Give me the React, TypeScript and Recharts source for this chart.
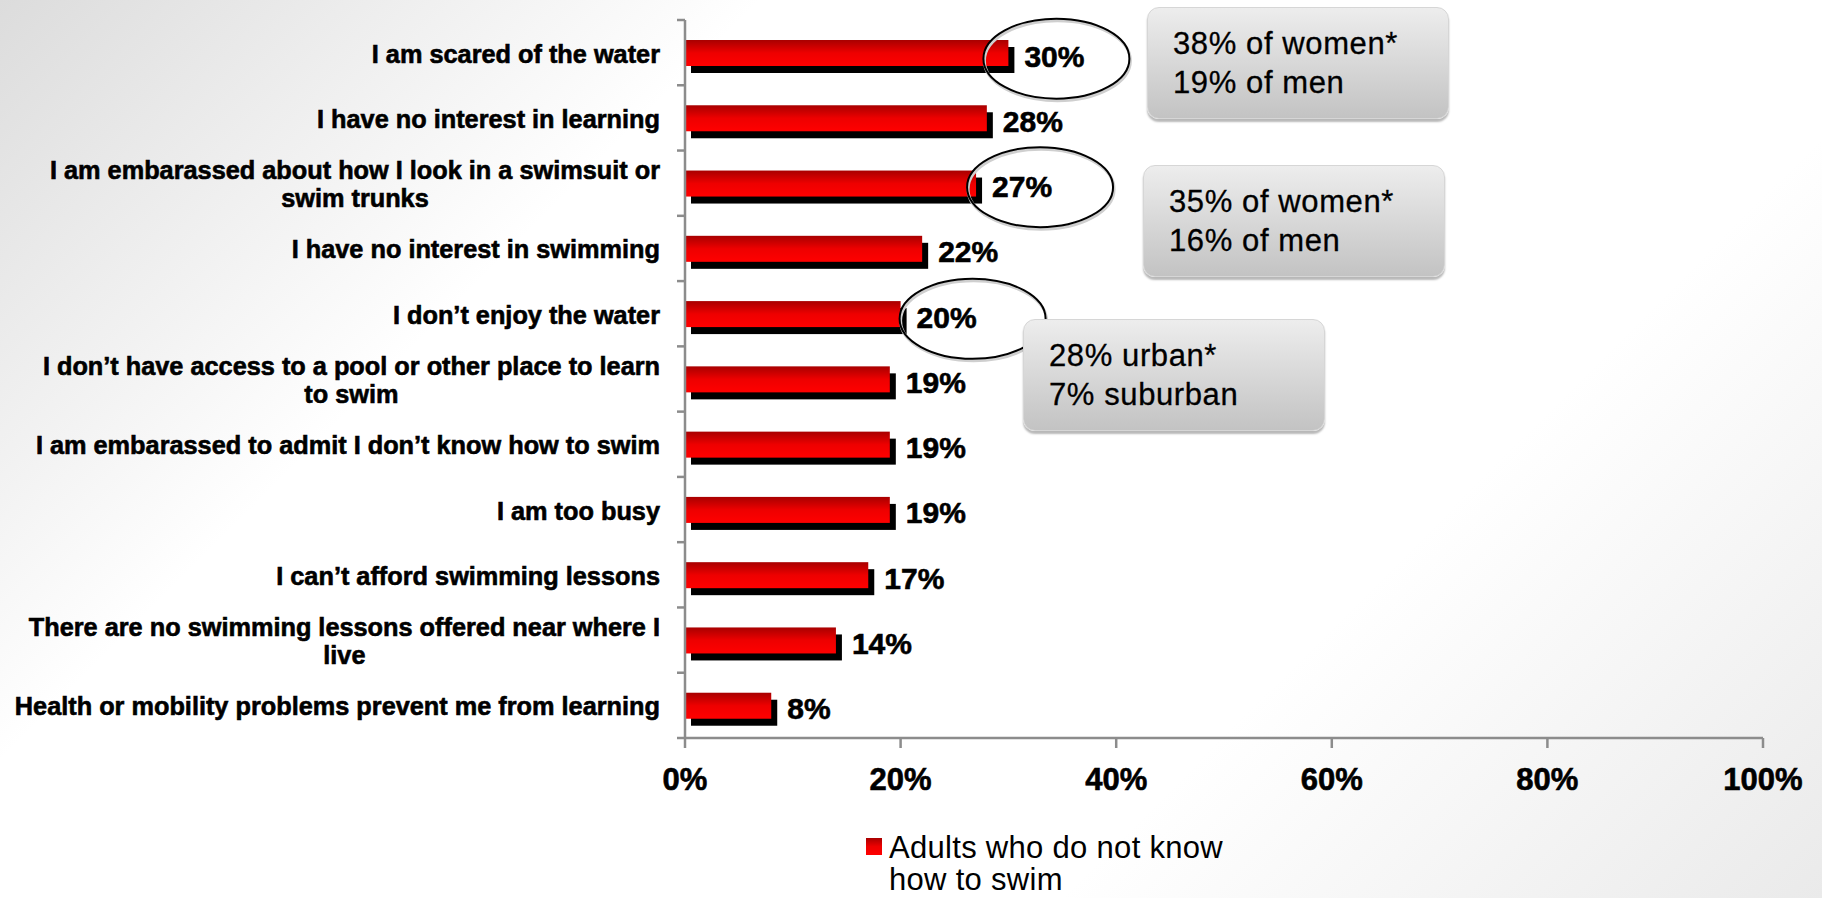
import React from "react";
import {
  BarChart,
  Bar,
  XAxis,
  YAxis,
  LabelList,
  ReferenceDot,
  Legend,
} from "recharts";

// categories, top to bottom
const categories = [
  "I am scared of the water",
  "I have no interest in learning",
  "I am embarassed about how I look in a swimsuit or\nswim trunks",
  "I have no interest in swimming",
  "I don’t enjoy the water",
  "I don’t have access to a pool or other place to learn\nto swim",
  "I am embarassed to admit I don’t know how to swim",
  "I am too busy",
  "I can’t afford swimming lessons",
  "There are no swimming lessons offered near where I\nlive",
  "Health or mobility problems prevent me from learning",
];

const adultsCantSwim = [30, 28, 27, 22, 20, 19, 19, 19, 17, 14, 8];

const xTicks = [0, 20, 40, 60, 80, 100];

const seriesName = "Adults who do not know how to swim";
const legendLines = ["Adults who do not know", "how to swim"];

// circled answers and the call-out text that goes with them
const circled = [0, 2, 4];
const calloutLines = [
  ["38% of women*", "19% of men"],
  ["35% of women*", "16% of men"],
  ["28% urban*", "7% suburban"],
];

const W = 1822;
const H = 898;
const TOP = 20;
const XAXIS_H = 160;
const PLOT_H = H - TOP - XAXIS_H;
const AXIS = "#8c8c8c";
const FONT = "'Liberation Sans', Arial, Helvetica, sans-serif";
const LABEL_SIZE = 25.3;

const rows = categories.map((c, i) => ({ category: c, value: adultsCantSwim[i] }));

let measureCtx: CanvasRenderingContext2D | null = null;
const measure = (s: string, font: string) => {
  if (!measureCtx) measureCtx = document.createElement("canvas").getContext("2d");
  if (!measureCtx) return s.length * 13;
  measureCtx.font = font;
  return measureCtx.measureText(s).width;
};

const ShadowBar = (props: any) => {
  const { x, y, width, height } = props;
  if (!width) return null;
  return (
    <g>
      <rect x={x + 6} y={y + 7} width={width} height={height} fill="#000" />
      <rect x={x} y={y} width={width} height={height} fill="url(#redFill)" />
    </g>
  );
};

const ValueLabel = (props: any) => {
  const { x, y, width, height, value } = props;
  return (
    <text
      x={x + width + 16}
      y={y + height / 2 + 3}
      dominantBaseline="central"
      fontFamily={FONT}
      fontWeight="bold"
      fontSize={30}
      fill="#000"
      stroke="#000"
      strokeWidth={0.6}
    >
      {value}%
    </text>
  );
};

const CategoryTick = (props: any) => {
  const { x, y, payload, index } = props;
  const band = PLOT_H / categories.length;
  const lines = String(payload.value).split("\n");
  const font = `bold ${LABEL_SIZE}px ${FONT}`;
  const blockW = Math.max(...lines.map((l) => measure(l, font)));
  const cx = x - 25 - blockW / 2;
  const start = y + 1 - ((lines.length - 1) * 28) / 2;
  return (
    <g>
      <line x1={x - 8} x2={x} y1={y - band / 2} y2={y - band / 2} stroke={AXIS} strokeWidth={2.5} />
      {index === categories.length - 1 && (
        <line x1={x - 8} x2={x} y1={y + band / 2} y2={y + band / 2} stroke={AXIS} strokeWidth={2.5} />
      )}
      {lines.map((l, i) => (
        <text
          key={i}
          x={cx}
          y={start + i * 28}
          textAnchor="middle"
          dominantBaseline="central"
          fontFamily={FONT}
          fontWeight="bold"
          fontSize={LABEL_SIZE}
          fill="#000"
          stroke="#000"
          strokeWidth={0.6}
        >
          {l}
        </text>
      ))}
    </g>
  );
};

const PercentTick = (props: any) => {
  const { x, y, payload } = props;
  return (
    <text
      x={x}
      y={y + 31}
      textAnchor="middle"
      dominantBaseline="central"
      fontFamily={FONT}
      fontWeight="bold"
      fontSize={31}
      fill="#000"
      stroke="#000"
      strokeWidth={0.6}
    >
      {payload.value}%
    </text>
  );
};

// offset of each ring from the end of its bar
const ringOffsets = [
  [48, 6],
  [64, 4],
  [72, 5],
];

const makeRing = (dx: number, dy: number) => (props: any) => {
  const { cx, cy } = props;
  return (
    <g>
      <ellipse cx={cx + dx + 1} cy={cy + dy + 2} rx={73} ry={40} fill="none" stroke="#cfcfcf" strokeWidth={3} />
      <ellipse cx={cx + dx} cy={cy + dy} rx={73} ry={40} fill="none" stroke="#000" strokeWidth={2} />
    </g>
  );
};

const LegendContent = () => (
  <div
    style={{
      display: "flex",
      alignItems: "flex-start",
      fontFamily: FONT,
      fontSize: 31,
      lineHeight: "32px",
      letterSpacing: 0.3,
      color: "#000",
    }}
  >
    <div
      style={{
        width: 16,
        height: 17,
        marginTop: 6,
        marginRight: 7,
        background: "linear-gradient(#a80000, #ee0000 50%, #ff0000)",
      }}
    />
    <div>
      {legendLines.map((l) => (
        <div key={l} style={{ whiteSpace: "nowrap" }}>{l}</div>
      ))}
    </div>
  </div>
);

const boxPlaces = [
  { left: 1147, top: 7 },
  { left: 1143, top: 165 },
  { left: 1023, top: 319 },
];

const Callout = ({ lines, left, top }: { lines: string[]; left: number; top: number }) => (
  <div
    style={{
      position: "absolute",
      left,
      top,
      width: 302,
      height: 112,
      boxSizing: "border-box",
      borderRadius: 12,
      border: "1px solid #d6d6d6",
      background: "linear-gradient(#ededed, #c3c3c3)",
      boxShadow: "0 3px 2px rgba(0,0,0,0.28)",
      padding: "16px 0 0 25px",
      fontFamily: FONT,
      fontSize: 31,
      letterSpacing: 0.6,
      lineHeight: "39px",
      color: "#000",
      WebkitTextStroke: "0.3px #000",
    }}
  >
    {lines.map((l) => (
      <div key={l}>{l}</div>
    ))}
  </div>
);

export default function App() {
  return (
    <div
      style={{
        position: "absolute",
        left: 0,
        top: 0,
        width: W,
        height: H,
        overflow: "hidden",
        background: "linear-gradient(135deg, #dcdcdc 0%, #ffffff 28%, #ffffff 72%, #eaeaea 100%)",
      }}
    >
      <BarChart
        layout="vertical"
        width={W}
        height={H}
        data={rows}
        margin={{ top: TOP, right: 59, left: 0, bottom: 0 }}
        barSize={26}
      >
        <defs>
          <linearGradient id="redFill" x1="0" y1="0" x2="0" y2="1">
            <stop offset="0%" stopColor="#a80000" />
            <stop offset="50%" stopColor="#ee0000" />
            <stop offset="100%" stopColor="#ff0000" />
          </linearGradient>
        </defs>
        <XAxis
          type="number"
          domain={[0, 100]}
          ticks={xTicks}
          interval={0}
          height={XAXIS_H}
          axisLine={{ stroke: AXIS, strokeWidth: 2.5 }}
          tickLine={{ stroke: AXIS, strokeWidth: 2.5 }}
          tickSize={10}
          tickMargin={0}
          tick={<PercentTick />}
        />
        <YAxis
          type="category"
          dataKey="category"
          width={685}
          interval={0}
          axisLine={{ stroke: AXIS, strokeWidth: 2.5 }}
          tickLine={false}
          tickSize={0}
          tickMargin={0}
          tick={<CategoryTick />}
        />
        <Bar dataKey="value" name={seriesName} shape={<ShadowBar />} isAnimationActive={false}>
          <LabelList dataKey="value" content={<ValueLabel />} />
        </Bar>
        {circled.map((ci, i) => (
          <ReferenceDot
            key={ci}
            x={adultsCantSwim[ci]}
            y={categories[ci]}
            r={1}
            ifOverflow="visible"
            shape={makeRing(ringOffsets[i][0], ringOffsets[i][1])}
          />
        ))}
        <Legend
          layout="vertical"
          align="center"
          verticalAlign="middle"
          content={<LegendContent />}
          wrapperStyle={{ left: 866, top: 832, width: 440, height: 64 }}
        />
      </BarChart>
      {calloutLines.map((lines, i) => (
        <Callout key={i} lines={lines} left={boxPlaces[i].left} top={boxPlaces[i].top} />
      ))}
    </div>
  );
}
